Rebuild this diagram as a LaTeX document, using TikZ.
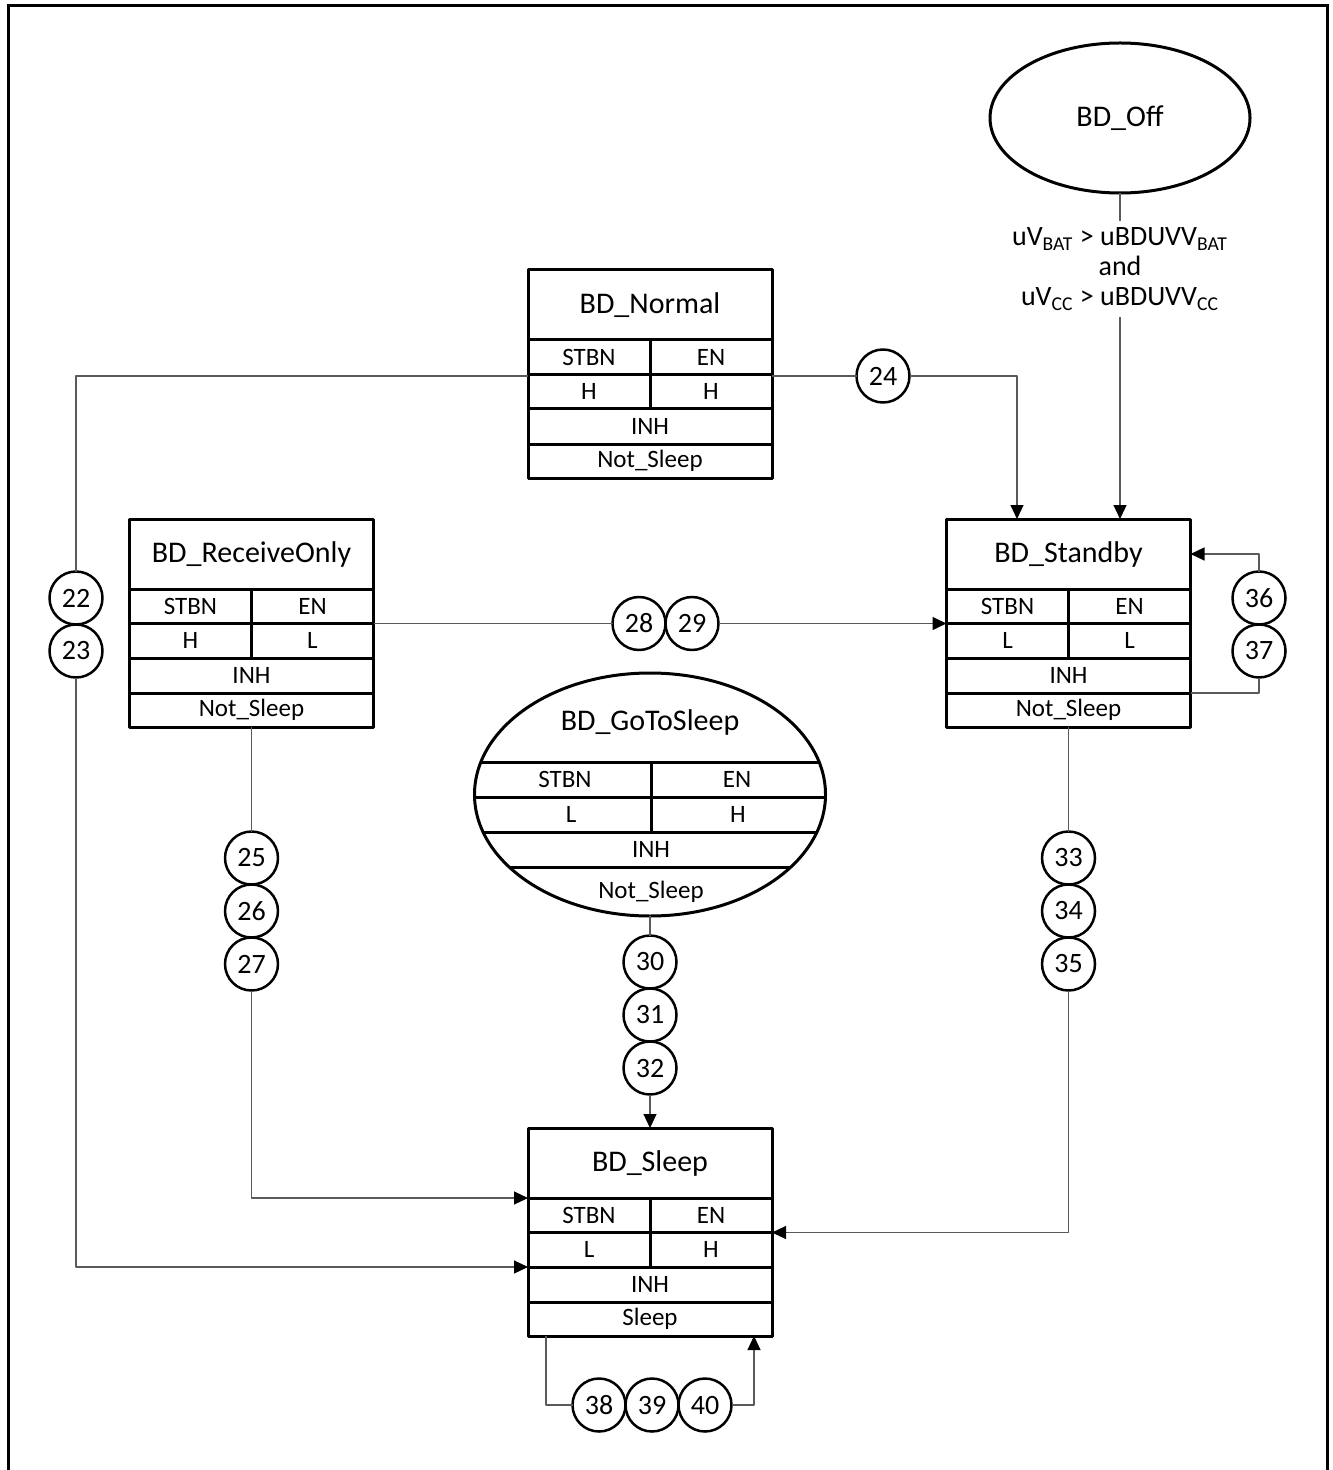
\documentclass[tikz,border=0pt]{standalone}
\usepackage{fontspec}
\setmainfont{Carlito}
\usetikzlibrary{arrows.meta,shapes.geometric,positioning}
\definecolor{connector}{HTML}{5A5A5A}

\newcommand{\titlefont}{\fontsize{15}{18}\selectfont}
\newcommand{\cellfont}{\fontsize{12.5}{15}\selectfont}
\newcommand{\numfont}{\fontsize{14}{16}\selectfont}

% State table: name, centre x, top y, title, STBN value, EN value, sleep row
\newcommand{\statetable}[7]{%
  \begin{scope}[shift={(#2,#3)}]
    \node[tablebox] (#1) at (0,104) {};
    \node[cell,minimum width=122pt,minimum height=35pt,font=\titlefont] (#1-title) at (0,35) {#4};
    \node[cell,minimum width=61pt,minimum height=17.25pt] (#1-stbn) at (-61,87.25) {STBN};
    \node[cell,minimum width=61pt,minimum height=17.25pt] (#1-en) at (61,87.25) {EN};
    \node[cell,minimum width=61pt,minimum height=17.25pt] (#1-stbnval) at (-61,121.75) {#5};
    \node[cell,minimum width=61pt,minimum height=17.25pt] (#1-enval) at (61,121.75) {#6};
    \node[cell,minimum width=122pt,minimum height=17.5pt] (#1-inh) at (0,156.5) {INH};
    \node[cell,minimum width=122pt,minimum height=17pt] (#1-sleep) at (0,191) {#7};
    \draw[boxline] (-122,70) -- (122,70);
    \draw[boxline] (-122,104.5) -- (122,104.5);
    \draw[boxline] (-122,139) -- (122,139);
    \draw[boxline] (-122,174) -- (122,174);
    \draw[boxline] (0,70) -- (0,139);
  \end{scope}}

\begin{document}
\begin{tikzpicture}[
  x=0.5pt,
  y=-0.5pt,
  line join=round,
  frame/.style={draw=black,line width=1.5pt,line join=miter},
  boxline/.style={draw=black,line width=1.5pt},
  tablebox/.style={draw=black,line width=1.5pt,minimum width=122pt,minimum height=104pt,inner sep=0pt,outer sep=0pt},
  cell/.style={inner sep=0pt,outer sep=0pt,font=\cellfont},
  stateellipse/.style={draw=black,line width=1.5pt,ellipse,inner sep=0pt,outer sep=0pt,font=\titlefont},
  numcircle/.style={draw=black,circle,line width=1.25pt,minimum size=26.5pt,inner sep=0pt,outer sep=0pt,font=\numfont},
  conn/.style={draw=connector,line width=0.6pt},
  arrow/.style={conn,-{Triangle[length=7pt,width=6.5pt,black]}}
]
  % Keep the page at the size of the artwork.
  \useasboundingbox (0,0) rectangle (1332,1470);

  % Outer frame, open at the bottom.
  \draw[frame] (8,1470) -- (8,6) -- (1327,6) -- (1327,1470);

  % States with their pin tables.
  \statetable{normal}{650}{270}{BD\_Normal}{H}{H}{Not\_Sleep}
  \statetable{recv}{251.5}{519}{BD\_ReceiveOnly}{H}{L}{Not\_Sleep}
  \statetable{standby}{1068.5}{519}{BD\_Standby}{L}{L}{Not\_Sleep}
  \statetable{sleep}{650}{1128}{BD\_Sleep}{L}{H}{Sleep}

  % Power-off state and its entry condition.
  \node[stateellipse,minimum width=130pt,minimum height=75pt] (off) at (1120,118) {BD\_Off};
  \node[align=center,font=\fontsize{14}{15}\selectfont] (offcond) at (1120,269)
    {uV\textsubscript{BAT} > uBDUVV\textsubscript{BAT}\\and\\uV\textsubscript{CC} > uBDUVV\textsubscript{CC}};

  % Go-to-sleep state drawn as an ellipse with its table inside.
  \node[stateellipse,minimum width=175.5pt,minimum height=121.5pt] (gts) at (650,794.5) {};
  \begin{scope}
    \clip (gts.center) ellipse [x radius=87.75pt,y radius=60.75pt];
    \foreach \r in {762,797,832,867} {
      \draw[boxline] (460,\r) -- (840,\r);
    }
    \draw[boxline] (651,762) -- (651,832);
  \end{scope}
  \node[font=\titlefont] (gts-title) at (650,722) {BD\_GoToSleep};
  \node[cell] (gts-stbn) at (565,779.5) {STBN};
  \node[cell] (gts-en) at (737,779.5) {EN};
  \node[cell] (gts-stbnval) at (571,814.5) {L};
  \node[cell] (gts-enval) at (738,814.5) {H};
  \node[cell] (gts-inh) at (651,849.5) {INH};
  \node[cell] (gts-sleep) at (651,892) {Not\_Sleep};

  % Transition numbers.
  \node[numcircle] (n22) at (76,598) {22};
  \node[numcircle,below=0pt of n22] (n23) {23};
  \node[numcircle] (n24) at (883,376) {24};
  \node[numcircle] (n25) at (251.5,858) {25};
  \node[numcircle,below=0pt of n25] (n26) {26};
  \node[numcircle,below=0pt of n26] (n27) {27};
  \node[numcircle] (n28) at (639,623.5) {28};
  \node[numcircle,right=0pt of n28] (n29) {29};
  \node[numcircle] (n30) at (650,962) {30};
  \node[numcircle,below=0pt of n30] (n31) {31};
  \node[numcircle,below=0pt of n31] (n32) {32};
  \node[numcircle] (n33) at (1068.5,858) {33};
  \node[numcircle,below=0pt of n33] (n34) {34};
  \node[numcircle,below=0pt of n34] (n35) {35};
  \node[numcircle] (n36) at (1259,598) {36};
  \node[numcircle,below=0pt of n36] (n37) {37};
  \node[numcircle] (n38) at (599,1405) {38};
  \node[numcircle,right=0pt of n38] (n39) {39};
  \node[numcircle,right=0pt of n39] (n40) {40};

  % Transitions.
  \draw[conn] (off) -- (offcond);
  \draw[arrow] (offcond) -- (offcond |- standby.north);
  \draw[conn] (normal.east |- n24) -- (n24);
  \draw[arrow] (n24) -| ([xshift=-25.75pt]standby.north);
  \draw[conn] (normal.west |- n24) -| (n22);
  \draw[arrow] (n23) |- (sleep-inh.north west);
  \draw[conn] (recv-en.south east) -- (n28);
  \draw[arrow] (n29) -- (standby-stbn.south west);
  \draw[conn] (recv) -- (n25);
  \draw[arrow] (n27) |- (sleep-title.south west);
  \draw[conn] (gts.south) -- (n30);
  \draw[arrow] (n32) -- (n32 |- sleep.north);
  \draw[conn] (standby) -- (n33);
  \draw[arrow] (n35) |- (sleep-en.south east);
  \draw[conn] (standby-inh.south east) -| (n37);
  \draw[arrow] (n36) |- (standby-title.east);
  \draw[conn] ([xshift=-52pt]sleep.south) |- (n38);
  \draw[arrow] (n40) -| ([xshift=52pt]sleep.south);
\end{tikzpicture}
\end{document}
